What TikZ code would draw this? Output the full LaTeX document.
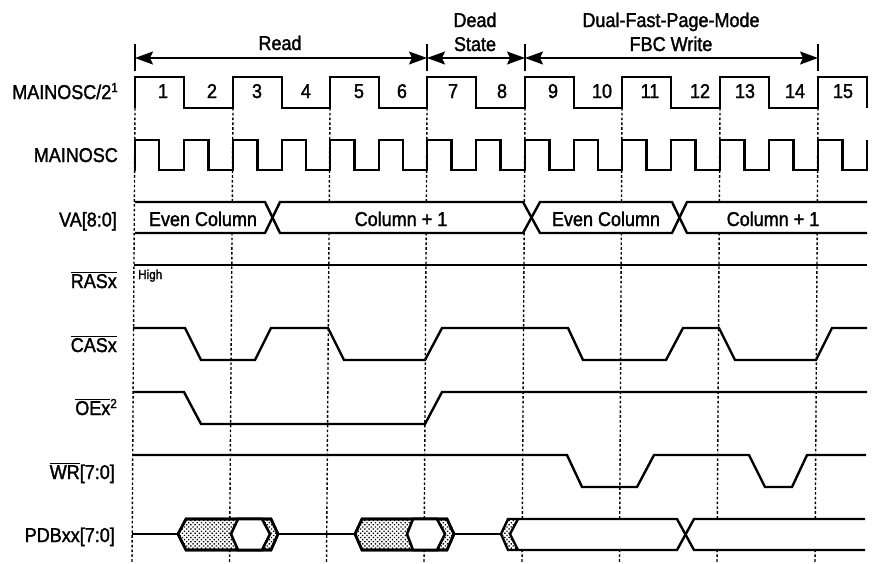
\documentclass[tikz,border=0pt]{standalone}
\usepackage{fontspec}
\usetikzlibrary{arrows.meta,patterns.meta}
\setmainfont[FakeBold=1.6,FakeStretch=0.9]{Liberation Sans}
\newcommand{\ovl}[1]{\leavevmode\vbox{\hrule height 1.4pt \kern 1.1pt \hbox{#1}}}
\newcommand{\supr}[1]{\raisebox{7pt}{\fontsize{13}{13}\selectfont #1}}
\tikzset{
  x=1pt,y=-1pt,
  sig/.style={line width=2.4pt,line join=miter,line cap=butt,black},
  clk/.style={line width=2.1pt,line join=miter,black},
  hexa/.style={line width=2.6pt,line join=miter,black,fill=white},
  dot/.style={line width=1.4pt,dash pattern=on 2.6pt off 2.2pt,black},
  bracket/.style={line width=1.1pt,black},
  span/.style={line width=1.6pt,black,{Stealth[length=18pt,width=13pt,inset=3pt]}-{Stealth[length=18pt,width=13pt,inset=3pt]}},
  lab/.style={anchor=base east,inner sep=0pt,font=\fontsize{20}{22}\selectfont},
  txt/.style={anchor=base,inner sep=0pt,font=\fontsize{20}{22}\selectfont},
  small/.style={anchor=base west,inner sep=0pt,font=\fontsize{13}{14}\selectfont},
  stip/.style={pattern={Dots[distance=3pt,radius=0.95pt,angle=45]},pattern color=black}
}
\begin{document}
\begin{tikzpicture}
\useasboundingbox[fill=white] (0,0) rectangle (872,563);
% dotted grid lines
\foreach \n/\xa/\xb in {g1/135/132,g2/233/229.5,g3/330/326.5,g4/427/424,g5/525/522,g6/622/619.5,g7/720/717,g8/818/815}{
  \coordinate (\n t) at (\xa,108);
  \coordinate (\n b) at (\xb,563);
  \draw[dot] (\n t) -- (\n b);
}
% span brackets
\foreach \n/\xx in {s1/135,s2/427,s3/525,s4/818}{
  \coordinate (\n a) at (\xx,44);
  \coordinate (\n b) at (\xx,71);
  \coordinate (\n m) at (\xx,58);
  \draw[bracket] (\n a) -- (\n b);
}
\draw[span] (s1m) -- (s2m);
\draw[span] (s2m) -- (s3m);
\draw[span] (s3m) -- (s4m);
\node[txt] (read) at (280,50) {Read};
\node[txt] (dead) at (475,27) {Dead};
\node[txt] (state) at (475,51) {State};
\node[txt] (dual) at (671,27) {Dual-Fast-Page-Mode};
\node[txt] (fbc) at (671,51) {FBC Write};
% clocks
\draw[clk] (135,108) -- (135,77) -- (184,77) -- (184,108) -- (233,108) -- (233,77) -- (282,77) -- (282,108) -- (330,108) -- (330,77) -- (379,77) -- (379,108) -- (427,108) -- (427,77) -- (476,77) -- (476,108) -- (525,108) -- (525,77) -- (574,77) -- (574,108) -- (622,108) -- (622,77) -- (671,77) -- (671,108) -- (720,108) -- (720,77) -- (769,77) -- (769,108) -- (818,108) -- (818,77) -- (867,77) -- (867,108);
\draw[clk] (135,171) -- (135,140) -- (159,140) -- (159,170) -- (184,170) -- (184,140) -- (208.5,140) -- (208.5,170) -- (233,170) -- (233,140) -- (257.5,140) -- (257.5,170) -- (282,170) -- (282,140) -- (306,140) -- (306,170) -- (330,170) -- (330,140) -- (354.5,140) -- (354.5,170) -- (379,170) -- (379,140) -- (403,140) -- (403,170) -- (427,170) -- (427,140) -- (451.5,140) -- (451.5,170) -- (476,170) -- (476,140) -- (500.5,140) -- (500.5,170) -- (525,170) -- (525,140) -- (549.5,140) -- (549.5,170) -- (574,170) -- (574,140) -- (598,140) -- (598,170) -- (622,170) -- (622,140) -- (646.5,140) -- (646.5,170) -- (671,170) -- (671,140) -- (695.5,140) -- (695.5,170) -- (720,170) -- (720,140) -- (744.5,140) -- (744.5,170) -- (769,170) -- (769,140) -- (793.5,140) -- (793.5,170) -- (818,170) -- (818,140) -- (842.5,140) -- (842.5,170) -- (867,170) -- (867,140) -- (867,171);
\foreach \n/\xx/\t in {c1/163/1,c2/212/2,c3/257/3,c4/306/4,c5/359/5,c6/402/6,c7/453/7,c8/502/8,c9/553/9,c10/602/10,c11/650/11,c12/700/12,c13/745/13,c14/795/14,c15/843/15}{
  \node[txt] (\n) at (\xx,98) {\t};
}
% VA bus
\fill[white] (137,202) -- (265,202) -- (272.5,217.5) -- (280,202) -- (523,202) -- (531.5,217.5) -- (540,202) -- (672,202) -- (679.5,217.5) -- (687,202) -- (867,202) -- (867,233) -- (687,233) -- (679.5,217.5) -- (672,233) -- (540,233) -- (531.5,217.5) -- (523,233) -- (280,233) -- (272.5,217.5) -- (265,233) -- (137,233) -- cycle;
\draw[sig] (135,202) -- (265,202) -- (280,233) -- (523,233) -- (540,202) -- (672,202) -- (687,233) -- (867,233);
\draw[sig] (135,233) -- (265,233) -- (280,202) -- (523,202) -- (540,233) -- (672,233) -- (687,202) -- (867,202);
\node[txt] (e1) at (203,226) {Even Column};
\node[txt] (c1p) at (401,226) {Column + 1};
\node[txt] (e2) at (606,226) {Even Column};
\node[txt] (c2p) at (773,226) {Column + 1};
% RAS
\draw[sig] (134,265) -- (867,265);
\node[small] (high) at (138,279) {High};
% CAS
\draw[sig] (133,328) -- (185,328) -- (201,360) -- (255,360) -- (271,328) -- (328,328) -- (344,360) -- (425,360) -- (442,328) -- (568,328) -- (583,360) -- (666,360) -- (683,328) -- (719,328) -- (735,360) -- (816,360) -- (832,328) -- (867,328);
% OE
\draw[sig] (133,392) -- (184,392) -- (201,424) -- (425,424) -- (442,392) -- (867,392);
% WR
\draw[sig] (132,455) -- (567,455) -- (582,487) -- (637,487) -- (654,455) -- (749,455) -- (765,487) -- (792,487) -- (807,455) -- (866,455);
% PDB
\draw[sig] (132,534) -- (178,534);
\draw[sig] (278,534) -- (355,534);
\draw[sig] (454,534) -- (501,534);
% hex 1
\draw[hexa] (178,534) -- (186,519) -- (271,519) -- (278,534) -- (271,550) -- (186,550) -- cycle;
\fill[stip] (178,534) -- (186,519) -- (238,519) -- (231,534) -- (238,550) -- (186,550) -- cycle;
\fill[stip] (262,519) -- (271,519) -- (278,534) -- (271,550) -- (262,550) -- (270,534) -- cycle;
\draw[hexa,fill=none] (178,534) -- (186,519) -- (271,519) -- (278,534) -- (271,550) -- (186,550) -- cycle;
\draw[hexa] (238,519) -- (231,534) -- (238,550) -- (262,550) -- (270,534) -- (262,519) -- cycle;
% hex 2
\draw[hexa] (355,534) -- (362,519) -- (447,519) -- (454,534) -- (447,550) -- (362,550) -- cycle;
\fill[stip] (355,534) -- (362,519) -- (413,519) -- (407,534) -- (413,550) -- (362,550) -- cycle;
\fill[stip] (437,519) -- (447,519) -- (454,534) -- (447,550) -- (437,550) -- (445,534) -- cycle;
\draw[hexa,fill=none] (355,534) -- (362,519) -- (447,519) -- (454,534) -- (447,550) -- (362,550) -- cycle;
\draw[hexa] (413,519) -- (407,534) -- (413,550) -- (437,550) -- (445,534) -- (437,519) -- cycle;
% final bus
\fill[white] (501,534) -- (508,519) -- (677,519) -- (685,534) -- (694,519) -- (865,519) -- (865,550) -- (694,550) -- (685,534) -- (677,550) -- (508,550) -- cycle;
\fill[stip] (501,534) -- (508,519) -- (518,519) -- (510,534) -- (518,550) -- (508,550) -- cycle;
\draw[sig] (518,519) -- (510,534) -- (518,550);
\draw[sig] (501,534) -- (508,519) -- (677,519) -- (694,550) -- (865,550);
\draw[sig] (501,534) -- (508,550) -- (677,550) -- (694,519) -- (865,519);
% row labels
\node[lab] (l1) at (118,99) {MAINOSC/2\supr{1}};
\node[lab] (l2) at (118,162) {MAINOSC};
\node[lab] (l3) at (117,226.5) {VA[8:0]};
\node[lab] (l4) at (117,288) {\ovl{RASx}};
\node[lab] (l5) at (117,352) {\ovl{CASx}};
\node[lab] (l6) at (117,415) {\ovl{OEx}\supr{2}};
\node[lab] (l7) at (115,479) {\ovl{WR}[7:0]};
\node[lab] (l8) at (115,542) {PDBxx[7:0]};
\end{tikzpicture}
\end{document}
